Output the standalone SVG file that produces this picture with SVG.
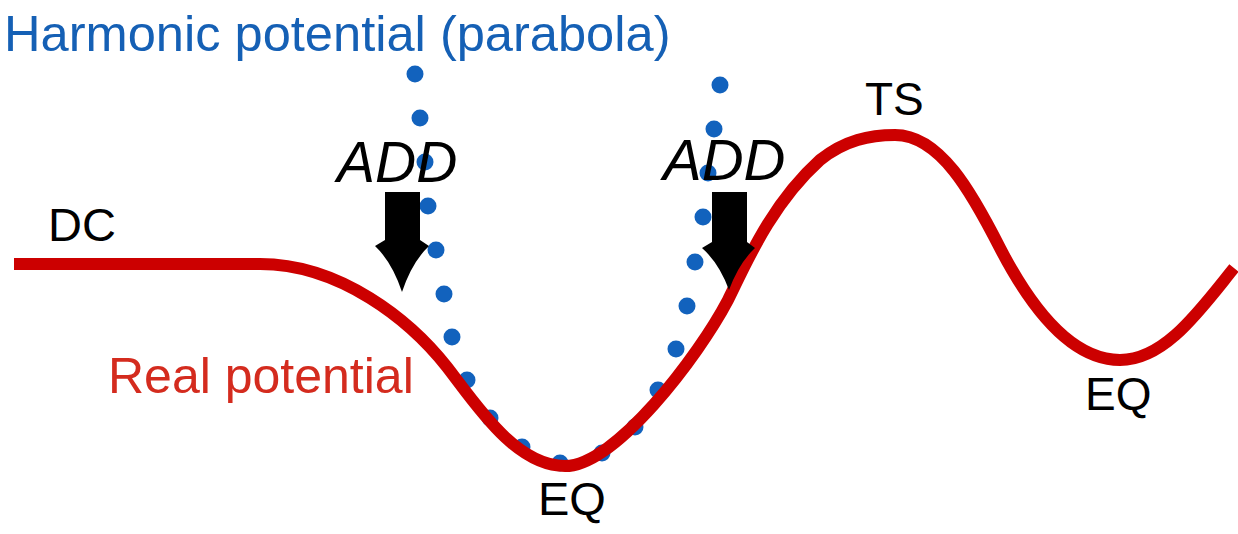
<svg xmlns="http://www.w3.org/2000/svg" width="1238" height="534" viewBox="0 0 1238 534">
<style>
  .lbl { font-family: "Liberation Sans", Arial, sans-serif; fill: #000; }
  .add { font-family: "Liberation Sans", Arial, sans-serif; font-style: italic; fill: #000; }
  .dot { fill: #1262BD; }
  .arrow { fill: #000; }
</style>
<rect width="1238" height="534" fill="#fff"/>
<g id="title">
  <text class="lbl" x="4" y="51" font-size="50.6" style="fill:#1560B5">Harmonic potential (parabola)</text>
</g>
<g id="harmonic">
  <circle class="dot" cx="415" cy="74" r="8.5"/>
  <circle class="dot" cx="420" cy="118" r="8.5"/>
  <circle class="dot" cx="425" cy="162" r="8.5"/>
  <circle class="dot" cx="428" cy="206" r="8.5"/>
  <circle class="dot" cx="436" cy="250" r="8.5"/>
  <circle class="dot" cx="444" cy="294" r="8.5"/>
  <circle class="dot" cx="452" cy="337" r="8.5"/>
  <circle class="dot" cx="467" cy="380" r="8.5"/>
  <circle class="dot" cx="490" cy="418" r="8.5"/>
  <circle class="dot" cx="522" cy="447" r="8.5"/>
  <circle class="dot" cx="560" cy="463" r="8.5"/>
  <circle class="dot" cx="602" cy="453" r="8.5"/>
  <circle class="dot" cx="635" cy="427" r="8.5"/>
  <circle class="dot" cx="658" cy="390" r="8.5"/>
  <circle class="dot" cx="676" cy="349" r="8.5"/>
  <circle class="dot" cx="687" cy="306" r="8.5"/>
  <circle class="dot" cx="695" cy="262" r="8.5"/>
  <circle class="dot" cx="703" cy="217" r="8.5"/>
  <circle class="dot" cx="708" cy="173" r="8.5"/>
  <circle class="dot" cx="714" cy="129" r="8.5"/>
  <circle class="dot" cx="720" cy="85" r="8.5"/>
</g>
<g id="real">
  <path d="M14,264 L260,264 C340,264 410,320 447,367 C475,403 515,466 565,466 C615,466 698,357 728,300 C745,266 770,205 820,160 C845,140 870,135 895,135 C940,135 972,193 1000,248 C1030,306 1070,360 1120,360 C1165,360 1200,310 1234,268" fill="none" stroke="#CC0000" stroke-width="12"/>
</g>
<g id="arrows">
  <path class="arrow" d="M385,192 H420 V240 L429,246 Q412,262 402,292 Q392,262 375,246 L385,240 Z"/>
  <path class="arrow" d="M712,192 H747 V242 L755,248 Q739,263 729,290 Q719,263 702,248 L712,242 Z"/>
</g>
<g id="labels">
  <text class="add" x="337" y="182" font-size="57">ADD</text>
  <text class="add" x="663" y="180" font-size="58">ADD</text>
  <text class="lbl" x="48" y="241" font-size="47">DC</text>
  <text class="lbl" x="108" y="393" font-size="50" style="fill:#D42B1E">Real potential</text>
  <text class="lbl" x="865" y="115" font-size="46">TS</text>
  <text class="lbl" x="1085" y="410" font-size="46">EQ</text>
  <text class="lbl" x="538" y="515" font-size="47">EQ</text>
</g>
</svg>
